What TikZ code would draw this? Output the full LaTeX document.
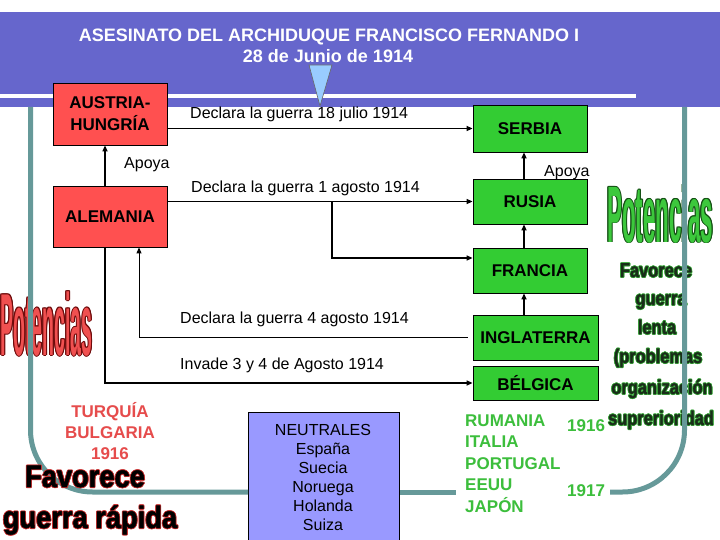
\documentclass[tikz,border=0pt]{standalone}
\usepackage{fontspec}
\setmainfont{Liberation Sans}
\newfontfamily\potR{Liberation Sans}[FakeStretch=0.222]
\newfontfamily\potG{Liberation Sans}[FakeStretch=0.28]
\newfontfamily\favR{Liberation Sans}[FakeStretch=0.82,FakeBold=1.5]
\newfontfamily\favL{Liberation Sans}[FakeStretch=0.88,FakeBold=1.5]
\usetikzlibrary{arrows.meta,calc}
\definecolor{banner}{RGB}{102,102,204}
\definecolor{tealline}{RGB}{102,153,153}
\definecolor{redbox}{RGB}{255,80,80}
\definecolor{greenbox}{RGB}{51,204,51}
\definecolor{neutral}{RGB}{153,153,255}
\definecolor{tri}{RGB}{153,204,255}
\definecolor{redtxt}{RGB}{230,76,76}
\definecolor{greentxt}{RGB}{60,190,60}
\definecolor{potred}{RGB}{240,80,80}
\definecolor{potredline}{RGB}{110,10,10}
\definecolor{potgreen}{RGB}{60,200,60}
\definecolor{potgreenline}{RGB}{20,80,20}
\definecolor{favfill}{RGB}{25,45,25}
\definecolor{favline}{RGB}{60,170,60}
\definecolor{favlline}{RGB}{200,50,50}
\newcommand{\otext}[8]{%
  \foreach \ang in {0,45,...,315}{%
    \node[anchor=#3,inner sep=0pt,text=#6,font=#4] at ($(#2)+(\ang:#7)$) {#8};}
  \node[anchor=#3,inner sep=0pt,text=#5,font=#4] (#1) at (#2) {#8};}
\begin{document}
\begin{tikzpicture}[x=1pt,y=-1pt,
  box/.style={draw=black,line width=0.8pt,inner sep=0pt,font=\fontsize{17}{22}\selectfont\bfseries,align=center},
  rbox/.style={box,fill=redbox,minimum width=114pt},
  gbox/.style={box,fill=greenbox},
  lbl/.style={anchor=base west,inner sep=0pt,font=\fontsize{16}{19}\selectfont},
  arr/.style={line width=1.6pt,-{Triangle[length=6pt,width=5pt]}},
  tl/.style={draw=tealline,line width=5pt},
  redl/.style={anchor=base,inner sep=0pt,text=redtxt,font=\fontsize{17}{20}\selectfont\bfseries},
  grnl/.style={anchor=base west,inner sep=0pt,text=greentxt,font=\fontsize{17}{20}\selectfont\bfseries},
  neul/.style={anchor=base,inner sep=0pt,font=\fontsize{16}{19}\selectfont}]
\clip (0,0) rectangle (720,540);
\fill[white] (0,0) rectangle (720,540);
% banner
\fill[banner] (0,12) rectangle (720,107);
\fill[white] (0,94) rectangle (636,98);
\node[font=\fontsize{18}{21}\selectfont\bfseries,text=white,anchor=base,inner sep=0pt] (t1) at (329,42) {ASESINATO DEL ARCHIDUQUE FRANCISCO FERNANDO I};
\node[font=\fontsize{18}{21}\selectfont\bfseries,text=white,anchor=base,inner sep=0pt] (t2) at (328,63) {28 de Junio de 1914};
\draw[fill=tri,draw=black!60,line width=0.6pt] (309,65) -- (332,65) -- (320,106) -- cycle;
% decorative texts
\otext{potL}{46.5,355}{base}{\potR\fontsize{88}{90}\selectfont\bfseries}{potred}{potredline}{1pt}{Potencias}
\otext{potRt}{660,242}{base}{\potG\fontsize{80}{82}\selectfont\bfseries}{potgreen}{potgreenline}{1pt}{Potencias}
\otext{f1}{656,277}{base}{\favR\fontsize{20}{22}\selectfont\bfseries}{favfill}{favline}{0.7pt}{Favorece}
\otext{f2}{661,305}{base}{\favR\fontsize{20}{22}\selectfont\bfseries}{favfill}{favline}{0.7pt}{guerra}
\otext{f3}{657,334}{base}{\favR\fontsize{20}{22}\selectfont\bfseries}{favfill}{favline}{0.7pt}{lenta}
\otext{f4}{658,363}{base}{\favR\fontsize{20}{22}\selectfont\bfseries}{favfill}{favline}{0.7pt}{(problemas}
\otext{f5}{662,394}{base}{\favR\fontsize{20}{22}\selectfont\bfseries}{favfill}{favline}{0.7pt}{organización}
\otext{f6}{661,425}{base}{\favR\fontsize{20}{22}\selectfont\bfseries}{favfill}{favline}{0.7pt}{suprerioridad}
% neutral box
\node[draw=black,fill=neutral,line width=0.8pt,minimum width=151pt,minimum height=140pt,anchor=north west,inner sep=0pt] (NE) at (248,412) {};
% teal lines
\coordinate (yb) at (0,492);
\draw[tl,rounded corners=62pt] (30.5,107) -- (30.5,492) -- (NE.west |- yb);
\draw[tl,rounded corners=62pt] (684.5,107) -- (684.5,492) -- (610,492);
\draw[tl] (NE.east |- yb) -- (456,492);
% boxes
\node[rbox,minimum height=62pt] (AH) at (110,114) {AUSTRIA-\\HUNGRÍA};
\node[rbox,minimum height=61pt] (AL) at (110,216.5) {ALEMANIA};
\node[gbox,minimum width=114pt,minimum height=47pt] (SE) at (530,128.5) {SERBIA};
\node[gbox,minimum width=114pt,minimum height=45pt] (RU) at (530,201.5) {RUSIA};
\node[gbox,minimum width=114pt,minimum height=45pt] (FR) at (530,270.5) {FRANCIA};
\node[gbox,minimum width=125pt,minimum height=45pt] (IN) at (535.5,337.5) {INGLATERRA};
\node[gbox,minimum width=125pt,minimum height=34pt] (BE) at (535.5,383) {BÉLGICA};
% connectors
\coordinate (x524) at (524,0);
\coordinate (x105) at (105,0);
\coordinate (x139) at (139,0);
\coordinate (x332) at (332,0);
\draw[arr] (AL.north -| x105) -- (AH.south -| x105);
\draw[arr] (RU.north -| x524) -- (SE.south -| x524);
\draw[arr] (FR.north -| x524) -- (RU.south -| x524);
\draw[arr] (IN.north -| x524) -- (FR.south -| x524);
\draw[arr] (AH.east |- SE.west) -- (SE.west);
\draw[arr] (AL.east |- RU.west) -- (RU.west);
\coordinate (frin) at ($(FR.west)+(0,-12.5)$);
\draw[arr] (RU.west -| x332) |- (frin);
\coordinate (inl) at ($(IN.west)+(-5,0)$);
\draw[line width=1pt,-{Triangle[length=6pt,width=5pt]}] (inl) -| (AL.south -| x139);
\draw[arr] (AL.south -| x105) |- (BE.west);
% labels
\node[lbl] (l1) at (190,119) {Declara la guerra 18 julio 1914};
\node[lbl] (ap1) at (124,169) {Apoya};
\node[lbl] (l2) at (191,193) {Declara la guerra 1 agosto 1914};
\node[lbl] (ap2) at (544,177) {Apoya};
\node[lbl] (l3) at (180,323) {Declara la guerra 4 agosto 1914};
\node[lbl] (l4) at (180,369) {Invade 3 y 4 de Agosto 1914};
% red list
\node[redl] (tb1) at (110,417) {TURQUÍA};
\node[redl] (tb2) at (110,438.5) {BULGARIA};
\node[redl] (tb3) at (110,459) {1916};
% green list
\node[grnl] (g1) at (465,426) {RUMANIA};
\node[grnl] (g2) at (465,447.5) {ITALIA};
\node[grnl] (g3) at (465,469) {PORTUGAL};
\node[grnl] (g4) at (465,490.5) {EEUU};
\node[grnl] (g5) at (465,512) {JAPÓN};
\node[grnl] (y1) at (567,431) {1916};
\node[grnl] (y2) at (567,496) {1917};
% neutral texts
\node[neul] (n1) at (323,435) {NEUTRALES};
\node[neul] (n2) at (323,454) {España};
\node[neul] (n3) at (323,473) {Suecia};
\node[neul] (n4) at (323,492) {Noruega};
\node[neul] (n5) at (323,511) {Holanda};
\node[neul] (n6) at (323,530) {Suiza};
% bottom-left
\otext{fl1}{85,487}{base}{\favL\fontsize{31}{33}\selectfont\bfseries}{black}{favlline}{0.8pt}{Favorece}
\otext{fl2}{90,528}{base}{\favL\fontsize{31}{33}\selectfont\bfseries}{black}{favlline}{0.8pt}{guerra rápida}
\end{tikzpicture}
\end{document}
